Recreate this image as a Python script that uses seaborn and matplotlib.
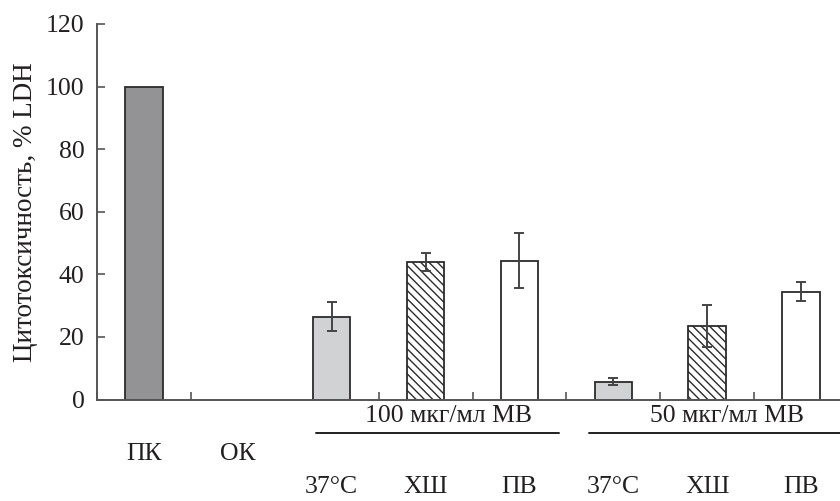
import numpy as np
import pandas as pd
import matplotlib
matplotlib.use("Agg")
import matplotlib.pyplot as plt
import seaborn as sns

# data
bar_ids = ["pk", "ok", "c37_100", "xsh_100", "pv_100", "c37_50", "xsh_50", "pv_50"]
bar_labels = ["ПК", "ОК", "37°C", "ХШ", "ПВ", "37°C", "ХШ", "ПВ"]
cytotox = [100.0, 0.0, 26.4, 44.0, 44.4, 5.7, 23.5, 34.5]
cytotox_err = [0.0, 0.0, 4.6, 2.8, 8.7, 1.1, 6.8, 3.0]
group_labels = ["100 мкг/мл МВ", "50 мкг/мл МВ"]
bar_colors = ["#929396", "#ffffff", "#d1d2d4", "#ffffff", "#ffffff", "#d1d2d4", "#ffffff", "#ffffff"]
hatched = ["xsh_100", "xsh_50"]

sns.set_theme(style="white")
plt.rcParams['font.family'] = ['Liberation Serif', 'DejaVu Serif']
plt.rcParams['hatch.linewidth'] = 1.0
ink = "#231f20"
fs = 18.5

df = pd.DataFrame({"id": bar_ids, "value": cytotox, "err": cytotox_err})

fig = plt.figure(figsize=(8.4, 5.01), dpi=100)
ax = fig.add_axes([97 / 840, 101.5 / 501, 751 / 840, 375.5 / 501])

sns.barplot(data=df, x="id", y="value", hue="id", palette=bar_colors, legend=False,
            width=0.4, edgecolor="#2b2b2b", linewidth=1.3, order=bar_ids, ax=ax)

for patch, bid in zip(ax.patches, bar_ids):
    if bid in hatched:
        patch.set_hatch("\\\\\\\\")
    if bid == "ok":
        patch.set_linewidth(0)

# error bars (only where there is a spread)
idx = [i for i, e in enumerate(cytotox_err) if e > 0]
ax.errorbar(idx, [cytotox[i] for i in idx], yerr=[cytotox_err[i] for i in idx],
            fmt="none", ecolor="#444444", elinewidth=1.4, capsize=3.5, capthick=1.4)

ax.set_xlim(-0.5, 7.5)
ax.set_ylim(0, 120)
ax.set_yticks(range(0, 121, 20))
ax.set_xticks([-0.5, 0.5, 2.5, 3.5, 4.5, 5.5, 6.5])
ax.set_xticklabels([])
ax.set_xlabel("")
ax.tick_params(axis="y", direction="in", length=6, width=1.2, color="#555555",
               labelsize=18.5, labelcolor=ink, pad=9, left=True)
ax.tick_params(axis="x", direction="in", length=6, width=1.2, color="#555555", bottom=True)
ax.set_ylabel("Цитотоксичность, % LDH", fontsize=19.5, color=ink, labelpad=6)

for side in ["top", "right"]:
    ax.spines[side].set_visible(False)
for side in ["left", "bottom"]:
    ax.spines[side].set_color("#555555")
    ax.spines[side].set_linewidth(1.4)

# category labels under the axis
trans = ax.get_xaxis_transform()
for i, lab in enumerate(bar_labels):
    y = -0.161 if i < 2 else -0.249
    ax.text(i, y, lab, transform=trans, ha="center", va="baseline", fontsize=fs, color=ink)

# group captions with a rule underneath
spans = [(1.83, 4.42), (4.74, 7.45)]
for (x0, x1), lab in zip(spans, group_labels):
    ax.text((x0 + x1) / 2 + 0.12, -0.06, lab, transform=trans, ha="center", va="baseline",
            fontsize=fs, color=ink)
    ax.plot([x0, x1], [-0.089, -0.089], transform=trans, color=ink, lw=1.4, clip_on=False)

fig.savefig("out.png", dpi=100)
